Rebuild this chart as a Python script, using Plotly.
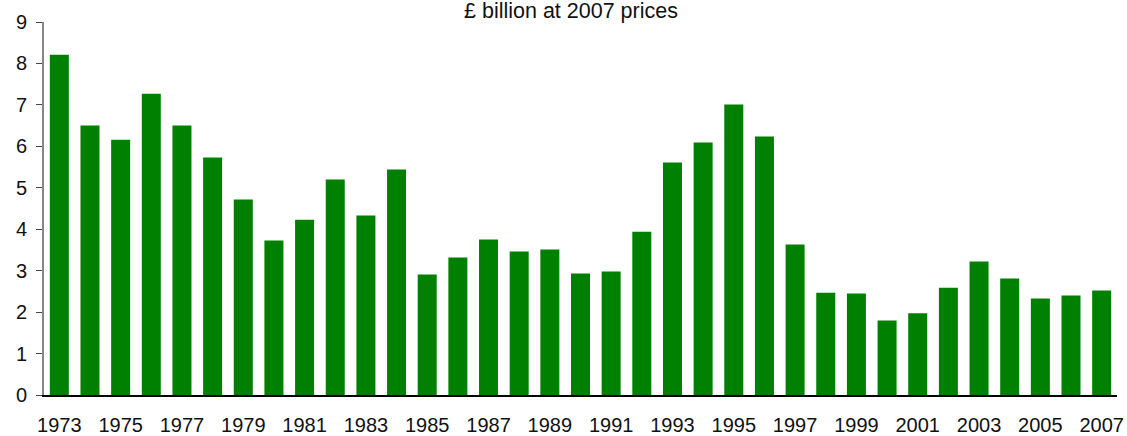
import plotly.graph_objects as go

years = [str(y) for y in range(1973, 2008)]
values = [8.21, 6.50, 6.16, 7.27, 6.50, 5.73, 4.72, 3.73, 4.23, 5.20,
          4.33, 5.44, 2.91, 3.32, 3.75, 3.46, 3.51, 2.93, 2.98, 3.94,
          5.61, 6.09, 7.01, 6.24, 3.63, 2.47, 2.45, 1.80, 1.97, 2.59,
          3.22, 2.81, 2.33, 2.40, 2.52]
x_labels = [str(y) for y in range(1973, 2008, 2)]
y_ticks = list(range(0, 10))

font = dict(family="Arial, Liberation Sans, sans-serif", size=20, color="#111")

fig = go.Figure()
fig.add_trace(go.Bar(x=years, y=values, marker_color="#008000", marker_line_width=0))

fig.update_layout(
    width=1127, height=436,
    margin=dict(l=44, r=10, t=22, b=41),
    plot_bgcolor="white", paper_bgcolor="white",
    bargap=0.38, showlegend=False, font=font,
    annotations=[dict(text="£ billion at 2007 prices", xref="paper", yref="paper",
                      x=0.491, y=1, xanchor="center", yanchor="bottom", yshift=-3,
                      showarrow=False, font=dict(font, size=21.5))],
)
fig.update_xaxes(type="category", tickvals=x_labels, ticktext=x_labels, ticks="",
                 showline=True, linecolor="black", linewidth=1.5, showgrid=False,
                 ticklabelstandoff=11, automargin=False)
fig.update_yaxes(range=[0, 9], tickvals=y_ticks, ticks="outside", ticklen=6,
                 tickcolor="#444", showline=True, linecolor="#888", linewidth=2,
                 showgrid=False, zeroline=False, ticklabelstandoff=5, automargin=False)

fig.write_html("out.html", config={"displayModeBar": False},
               post_script="document.body.style.margin='0';")
